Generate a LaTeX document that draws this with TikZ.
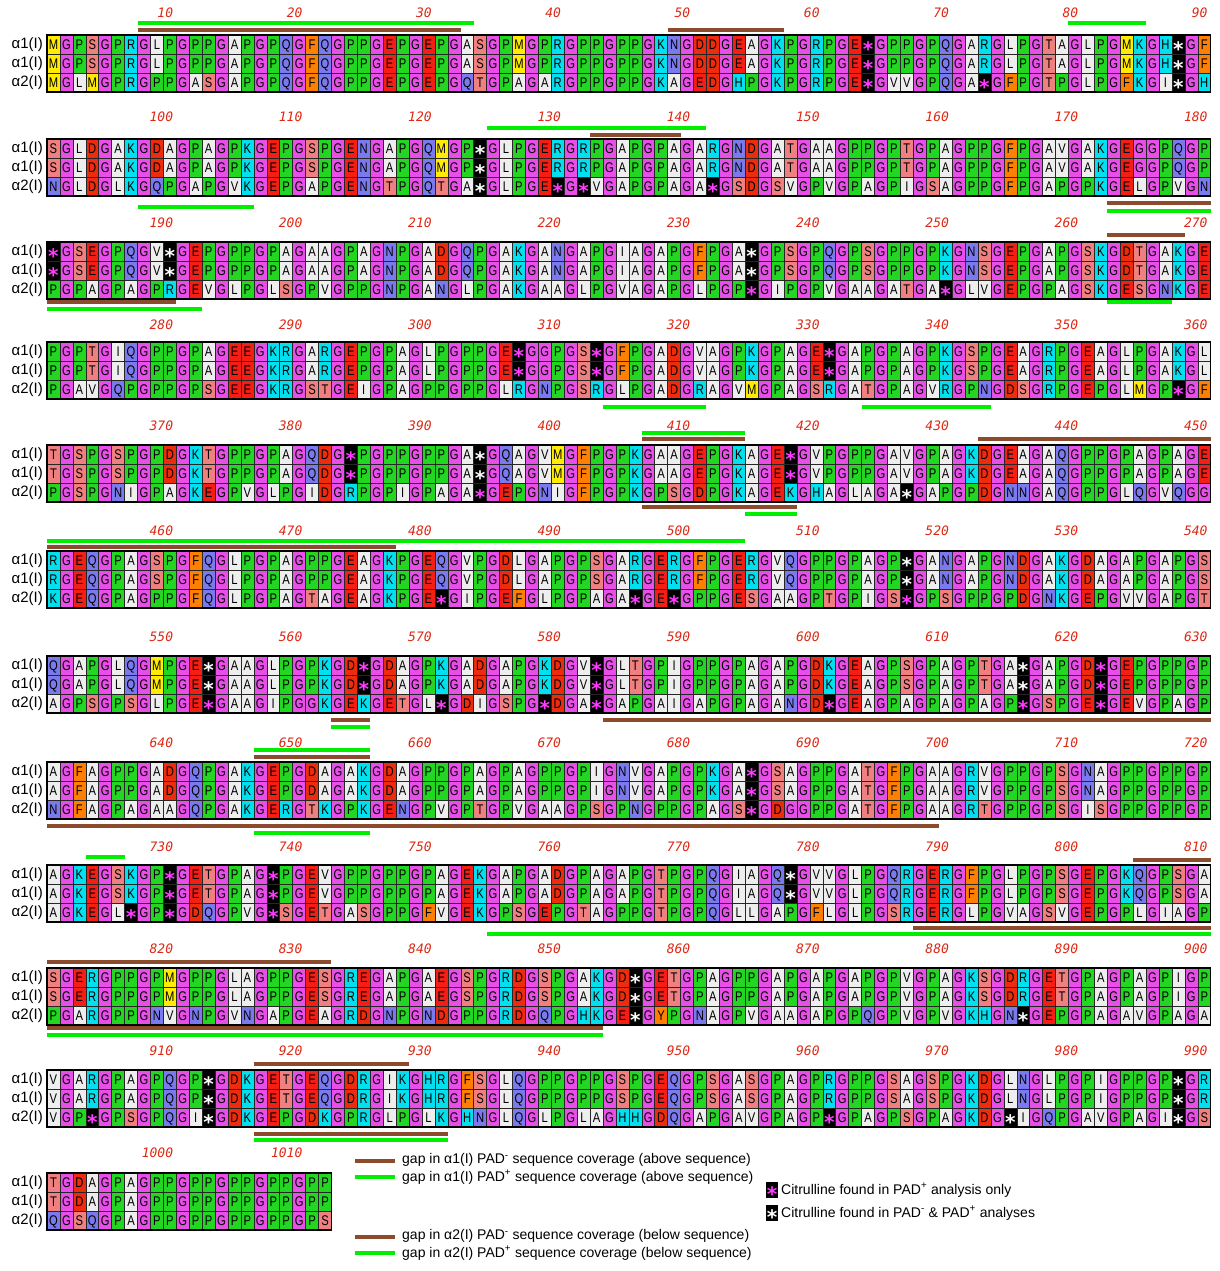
\documentclass[tikz,border=0pt]{standalone}
\usepackage{fontspec}
\setmainfont{Liberation Sans}
\newfontfamily\resfont[FakeStretch=0.8]{Liberation Sans}
\newfontfamily\numfont{DejaVu Sans Mono}
\newfontfamily\starfont{DejaVu Sans}
\newfontfamily\labfont{Liberation Sans}

\definecolor{cG}{RGB}{232,78,232}
\definecolor{cP}{RGB}{34,214,34}
\definecolor{cW}{RGB}{238,238,238}
\definecolor{cS}{RGB}{240,128,128}
\definecolor{cK}{RGB}{0,224,238}
\definecolor{cQ}{RGB}{122,122,238}
\definecolor{cD}{RGB}{236,44,12}
\definecolor{cE}{RGB}{244,30,20}
\definecolor{cF}{RGB}{255,128,0}
\definecolor{cM}{RGB}{255,236,0}
\definecolor{starmag}{RGB}{255,60,255}
\definecolor{numred}{RGB}{222,40,20}
\definecolor{barbrown}{RGB}{140,75,45}
\definecolor{bargreen}{RGB}{0,238,0}

\newcount\rescnt
\newcount\blkno
\newcount\rowno
\def\cw{12.93}
\def\rh{19}
\def\xo{47}

\tikzset{
  cellbox/.style={draw=black!85, line width=0.5pt},
  cs/G/.style={cellbox,fill=cG}, cs/P/.style={cellbox,fill=cP},
  cs/A/.style={cellbox,fill=cW}, cs/L/.style={cellbox,fill=cW},
  cs/V/.style={cellbox,fill=cW}, cs/I/.style={cellbox,fill=cW},
  cs/S/.style={cellbox,fill=cS}, cs/T/.style={cellbox,fill=cS},
  cs/K/.style={cellbox,fill=cK}, cs/R/.style={cellbox,fill=cK},
  cs/H/.style={cellbox,fill=cK}, cs/Q/.style={cellbox,fill=cQ},
  cs/N/.style={cellbox,fill=cQ}, cs/D/.style={cellbox,fill=cD},
  cs/E/.style={cellbox,fill=cE}, cs/F/.style={cellbox,fill=cF},
  cs/Y/.style={cellbox,fill=cF}, cs/M/.style={cellbox,fill=cM},
  cs/x/.style={cellbox,fill=black}, cs/z/.style={cellbox,fill=black},
  rt/.style={anchor=base, inner sep=0pt, font=\resfont\fontsize{14}{14}\selectfont, text=black},
  rt/G/.style={}, rt/P/.style={}, rt/A/.style={}, rt/L/.style={},
  rt/V/.style={}, rt/I/.style={}, rt/S/.style={}, rt/T/.style={},
  rt/K/.style={}, rt/R/.style={}, rt/H/.style={}, rt/Q/.style={},
  rt/N/.style={}, rt/D/.style={}, rt/E/.style={}, rt/F/.style={},
  rt/Y/.style={}, rt/M/.style={},
  rt/x/.style={text=white, yshift=-6.6pt},
  rt/z/.style={text=starmag, yshift=-6.6pt},
  numlab/.style={anchor=east, inner sep=0pt, text=numred, font=\numfont\itshape\fontsize{13}{13}\selectfont},
  rowlab/.style={anchor=east, inner sep=0pt, font=\labfont\fontsize{15}{15}\selectfont},
  frame/.style={draw=black, line width=1.2pt},
  brownbar/.style={draw=barbrown, line width=4.5pt},
  greenbar/.style={draw=bargreen, line width=4.5pt},
  legtext/.style={anchor=west, inner sep=0pt, font=\fontsize{14}{14}\selectfont},
  legsq/.style={fill=black, minimum width=12pt, minimum height=16pt, inner sep=0pt},
}

\def\starglyph{\smash{\starfont\bfseries\fontsize{20}{20}\selectfont*}}
\def\cellchar#1{\ifx#1x\starglyph\else\ifx#1z\starglyph\else#1\fi\fi}

\def\drawcell#1{%
  \global\advance\rescnt by 1
  \edef\cellnm{c\the\blkno-\the\rowno-\the\rescnt}%
  \path[cs/#1] ({\xo+(\the\rescnt-1)*\cw},{\rowtop}) rectangle ++(\cw,\rh);%
  \node[rt,rt/#1] (\cellnm) at ({\xo+(\the\rescnt-0.5)*\cw},{\rowtop+14.5}) {\cellchar{#1}};%
}
\def\seqrow#1#2{\global\rescnt=0 \def\rowtop{#1}\seqloop#2\relax}
\def\seqloop#1{\ifx#1\relax\else\drawcell{#1}\expandafter\seqloop\fi}

% #1 block, #2 label y, #3 box top, #4 columns, #5 alpha1, #6 alpha2
\newcommand\seqblock[6]{%
  \global\blkno=#1\relax
  \pgfmathtruncatemacro\nlab{#4/10}%
  \foreach \k in {1,...,\nlab}{%
    \pgfmathtruncatemacro\num{90*(#1-1)+10*\k}%
    \node[numlab] (n#1-\k) at ({\xo+10*\k*\cw-3},{#2}) {\num};}%
  \global\rowno=1 \seqrow{#3}{#5}%
  \global\rowno=2 \seqrow{#3+\rh}{#5}%
  \global\rowno=3 \seqrow{#3+2*\rh}{#6}%
  \draw[frame] (\xo,#3) rectangle ++({#4*\cw},{3*\rh});
  \node[rowlab] (r#1-1) at (43,{#3+0.5*\rh}) {α1(I)};
  \node[rowlab] (r#1-2) at (43,{#3+1.5*\rh}) {α1(I)};
  \node[rowlab] (r#1-3) at (43,{#3+2.5*\rh}) {α2(I)};
}
\newcommand\gapbar[4]{\draw[#1] ({\xo+(#3-1)*\cw},{#2}) -- ({\xo+#4*\cw},{#2});}

\begin{document}
\begin{tikzpicture}[x=1pt,y=-1pt]
\useasboundingbox (0,0) rectangle (1219,1271);
\fill[white] (0,0) rectangle (1219,1271);

\seqblock{1}{13}{35}{90}
 {MGPSGPRGLP GPPGAPGPQG FQGPPGEPGE PGASGPMGPR GPPGPPGKNG DDGEAGKPGR PGEzGPPGPQ GARGLPGTAG LPGMKGHxGF}
 {MGLMGPRGPP GASGAPGPQG FQGPPGEPGE PGQTGPAGAR GPPGPPGKAG EDGHPGKPGR PGEzGVVGPQ GAzGFPGTPG LPGFKGIxGH}
\seqblock{2}{117}{139}{90}
 {SGLDGAKGDA GPAGPKGEPG SPGENGAPGQ MGPxGLPGER GRPGAPGPAG ARGNDGATGA AGPPGPTGPA GPPGFPGAVG AKGEGGPQGP}
 {NGLDGLKGQP GAPGVKGEPG APGENGTPGQ TGAxGLPGEz GzVGAPGPAG AzGSDGSVGP VGPAGPIGSA GPPGFPGAPG PKGELGPVGN}
\seqblock{3}{223}{242}{90}
 {zGSEGPQGVx GEPGPPGPAG AAGPAGNPGA DGQPGAKGAN GAPGIAGAPG FPGAxGPSGP QGPSGPPGPK GNSGEPGAPG SKGDTGAKGE}
 {PGPAGPAGPR GEVGLPGLSG PVGPPGNPGA NGLPGAKGAA GLPGVAGAPG LPGPzGIPGP VGAAGATGAz GLVGEPGPAG SKGESGNKGE}
\seqblock{4}{325}{342}{90}
 {PGPTGIQGPP GPAGEEGKRG ARGEPGPAGL PGPPGEzGGP GSzGFPGADG VAGPKGPAGE zGAPGPAGPK GSPGEAGRPG EAGLPGAKGL}
 {PGAVGQPGPP GPSGEEGKRG STGEIGPAGP PGPPGLRGNP GSRGLPGADG RAGVMGPAGS RGATGPAGVR GPNGDSGRPG EPGLMGPzGF}
\seqblock{5}{426}{445}{90}
 {TGSPGSPGPD GKTGPPGPAG QDGzPGPPGP PGAxGQAGVM GFPGPKGAAG EPGKAGEzGV PGPPGAVGPA GKDGEAGAQG PPGPAGPAGE}
 {PGSPGNIGPA GKEGPVGLPG IDGRPGPIGP AGAzGEPGNI GFPGPKGPSG DPGKAGEKGH AGLAGAxGAP GPDGNNGAQG PPGLQGVQGG}
\seqblock{6}{531}{551}{90}
 {RGEQGPAGSP GFQGLPGPAG PPGEAGKPGE QGVPGDLGAP GPSGARGERG FPGERGVQGP PGPAGPxGAN GAPGNDGAKG DAGAPGAPGS}
 {KGEQGPAGPP GFQGLPGPAG TAGEAGKPGE zGIPGEFGLP GPAGAzGEzG PPGESGAAGP TGPIGSzGPS GPPGPDGNKG EPGVVGAPGT}
\seqblock{7}{637}{656}{90}
 {QGAPGLQGMP GExGAAGLPG PKGDzGDAGP KGADGAPGKD GVzGLTGPIG PPGPAGAPGD KGEAGPSGPA GPTGAxGAPG DzGEPGPPGP}
 {AGPSGPSGLP GEzGAAGIPG GKGEKGETGL zGDIGSPGzD GAzGAPGAIG APGPAGANGD zGEAGPAGPA GPAGPzGSPG EzGEVGPAGP}
\seqblock{8}{743}{762}{90}
 {AGFAGPPGAD GQPGAKGEPG DAGAKGDAGP PGPAGPAGPP GPIGNVGAPG PKGAzGSAGP PGATGFPGAA GRVGPPGPSG NAGPPGPPGP}
 {NGFAGPAGAA GQPGAKGERG TKGPKGENGP VGPTGPVGAA GPSGPNGPPG PAGSzGDGGP PGATGFPGAA GRTGPPGPSG ISGPPGPPGP}
\seqblock{9}{847}{865}{90}
 {AGKEGSKGPz GETGPAGzPG EVGPPGPPGP AGEKGAPGAD GPAGAPGTPG PQGIAGQxGV VGLPGQRGER GFPGLPGPSG EPGKQGPSGA}
 {AGKEGLzGPz GDQGPVGzSG ETGASGPPGF VGEKGPSGEP GTAGPPGTPG PQGLLGAPGF LGLPGSRGER GLPGVAGSVG EPGPLGIAGP}
\seqblock{10}{949}{968}{90}
 {SGERGPPGPM GPPGLAGPPG ESGREGAPGA EGSPGRDGSP GAKGDxGETG PAGPPGAPGA PGAPGPVGPA GKSGDRGETG PAGPAGPIGP}
 {PGARGPPGNV GNPGVNGAPG EAGRDGNPGN DGPPGRDGQP GHKGExGYPG NAGPVGAAGA PGPQGPVGPV GKHGNxGEPG PAGAVGPAGA}
\seqblock{11}{1051}{1070}{90}
 {VGARGPAGPQ GPxGDKGETG EQGDRGIKGH RGFSGLQGPP GPPGSPGEQG PSGASGPAGP RGPPGSAGSP GKDGLNGLPG PIGPPGPxGR}
 {VGPzGPSGPQ GIxGDKGEPG DKGPRGLPGL KGHNGLQGLP GLAGHHGDQG APGAVGPAGP zGPAGPSGPA GKDGxIGQPG AVGPAGIxGS}
\seqblock{12}{1153}{1173}{22}
 {TGDAGPAGPP GPPGPPGPPG PP}
 {QGSQGPAGPP GPPGPPGPPG PS}

% gap bars
\gapbar{greenbar}{23}{8}{33}
\gapbar{brownbar}{30}{8}{32}
\gapbar{brownbar}{30}{49}{57}
\gapbar{greenbar}{23}{80}{85}
\gapbar{greenbar}{128}{35}{51}
\gapbar{brownbar}{135}{43}{49}
\gapbar{greenbar}{207}{8}{16}
\gapbar{brownbar}{203}{83}{90}
\gapbar{greenbar}{211}{83}{90}
\gapbar{brownbar}{235}{83}{88}
\gapbar{brownbar}{302}{1}{10}
\gapbar{greenbar}{309}{1}{12}
\gapbar{greenbar}{302}{83}{87}
\gapbar{greenbar}{407}{44}{51}
\gapbar{greenbar}{407}{64}{73}
\gapbar{greenbar}{433}{47}{54}
\gapbar{brownbar}{439}{47}{54}
\gapbar{brownbar}{439}{73}{90}
\gapbar{brownbar}{507}{47}{58}
\gapbar{greenbar}{514}{55}{58}
\gapbar{greenbar}{541}{1}{54}
\gapbar{brownbar}{547}{1}{27}
\gapbar{brownbar}{720}{23}{25}
\gapbar{greenbar}{727}{23}{25}
\gapbar{brownbar}{720}{44}{90}
\gapbar{greenbar}{750}{17}{25}
\gapbar{brownbar}{757}{17}{25}
\gapbar{brownbar}{826}{1}{69}
\gapbar{greenbar}{833}{17}{25}
\gapbar{greenbar}{857}{4}{6}
\gapbar{brownbar}{860}{85}{90}
\gapbar{brownbar}{928}{68}{90}
\gapbar{greenbar}{934}{35}{90}
\gapbar{brownbar}{962}{1}{22}
\gapbar{brownbar}{1028}{1}{43}
\gapbar{greenbar}{1035}{1}{43}
\gapbar{brownbar}{1064}{17}{28}
\gapbar{brownbar}{1134}{17}{31}
\gapbar{greenbar}{1140}{17}{31}

% legend
\coordinate (lb1a) at (355,1161); \coordinate (lb1b) at (395,1161);
\coordinate (lg1a) at (355,1177); \coordinate (lg1b) at (395,1177);
\coordinate (lb2a) at (355,1237); \coordinate (lb2b) at (395,1237);
\coordinate (lg2a) at (355,1253); \coordinate (lg2b) at (395,1253);
\draw[brownbar] (lb1a) -- (lb1b);
\draw[greenbar] (lg1a) -- (lg1b);
\draw[brownbar] (lb2a) -- (lb2b);
\draw[greenbar] (lg2a) -- (lg2b);
\node[legtext] (t1) at (402,1160) {gap in α1(I) PAD\textsuperscript{-} sequence coverage (above sequence)};
\node[legtext] (t2) at (402,1177) {gap in α1(I) PAD\textsuperscript{+} sequence coverage (above sequence)};
\node[legtext] (t3) at (402,1236) {gap in α2(I) PAD\textsuperscript{-} sequence coverage (below sequence)};
\node[legtext] (t4) at (402,1253) {gap in α2(I) PAD\textsuperscript{+} sequence coverage (below sequence)};

\node[legsq] (k1) at (772,1190) {};
\node[anchor=base, inner sep=0pt, text=starmag] (k1s) at (772,1201.6) {\starglyph};
\node[legtext] (k1t) at (781,1190) {Citrulline found in PAD\textsuperscript{+} analysis only};
\node[legsq] (k2) at (772,1213) {};
\node[anchor=base, inner sep=0pt, text=white] (k2s) at (772,1224.6) {\starglyph};
\node[legtext] (k2t) at (781,1213) {Citrulline found in PAD\textsuperscript{-} \& PAD\textsuperscript{+} analyses};
\end{tikzpicture}
\end{document}
